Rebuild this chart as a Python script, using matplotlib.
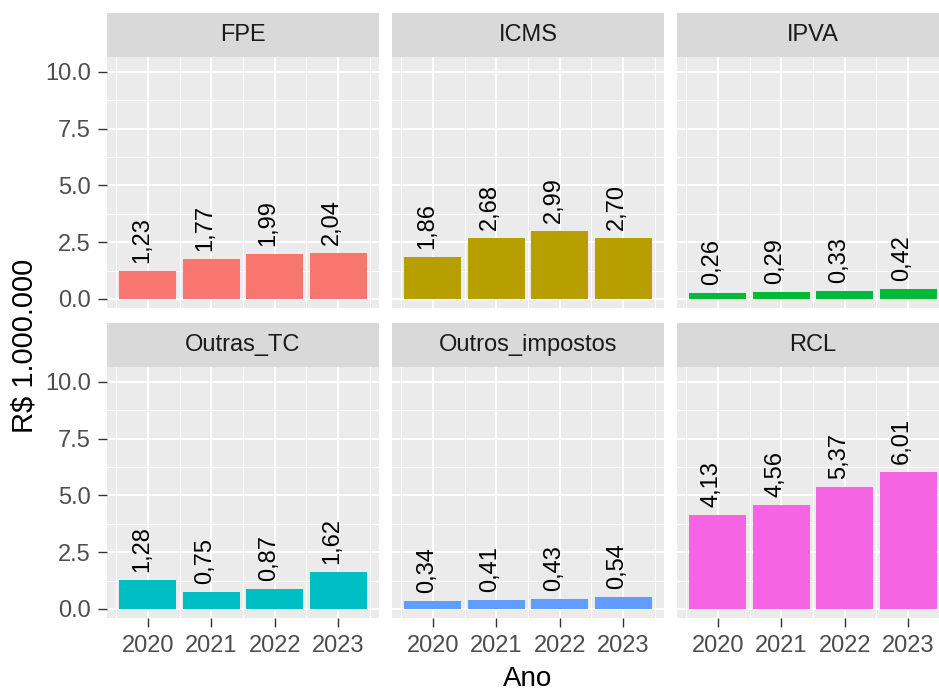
import matplotlib.pyplot as plt
from matplotlib.ticker import FixedLocator

plt.rcParams['font.family'] = ['Liberation Sans', 'DejaVu Sans']

# Data
anos = [2020, 2021, 2022, 2023]
fontes = ['FPE', 'ICMS', 'IPVA', 'Outras_TC', 'Outros_impostos', 'RCL']
fpe = [1.23, 1.77, 1.99, 2.04]
icms = [1.86, 2.68, 2.99, 2.70]
ipva = [0.26, 0.29, 0.33, 0.42]
outras_tc = [1.28, 0.75, 0.87, 1.62]
outros_impostos = [0.34, 0.41, 0.43, 0.54]
rcl = [4.13, 4.56, 5.37, 6.01]
valores = [fpe, icms, ipva, outras_tc, outros_impostos, rcl]
cores = ['#F8766D', '#B79F00', '#00BA38', '#00BFC4', '#619CFF', '#F564E3']

W, H = 939, 693
fig = plt.figure(figsize=(W / 100, H / 100), dpi=100)

col_x = [107, 392, 677]
panel_w = 272
rows = [(13, 57, 308), (323, 367, 618)]  # strip top, panel top, panel bottom

def px_axes(x0, y0, x1, y1):
    return fig.add_axes([x0 / W, 1 - y1 / H, (x1 - x0) / W, (y1 - y0) / H])

for i, (nome, vals, cor) in enumerate(zip(fontes, valores, cores)):
    r, c = divmod(i, 3)
    st, pt, pb = rows[r]
    x0 = col_x[c]
    x1 = x0 + panel_w

    # strip
    sax = px_axes(x0, st, x1, pt)
    sax.set_facecolor('#D9D9D9')
    sax.set_xticks([])
    sax.set_yticks([])
    for s in sax.spines.values():
        s.set_visible(False)
    sax.text(0.5, 0.5, nome, transform=sax.transAxes, ha='center', va='center',
             fontsize=17, color='#1A1A1A')

    # panel
    ax = px_axes(x0, pt, x1, pb)
    ax.set_facecolor('#EBEBEB')
    for s in ax.spines.values():
        s.set_visible(False)
    ax.set_xlim(2019.355, 2023.645)
    ax.set_ylim(-0.4, 10.65)
    ax.xaxis.set_major_locator(FixedLocator(anos))
    ax.xaxis.set_minor_locator(FixedLocator([2019.5, 2020.5, 2021.5, 2022.5, 2023.5]))
    ax.yaxis.set_major_locator(FixedLocator([0, 2.5, 5, 7.5, 10]))
    ax.yaxis.set_minor_locator(FixedLocator([1.25, 3.75, 6.25, 8.75]))
    ax.grid(which='major', color='white', linewidth=1.5)
    ax.grid(which='minor', color='white', linewidth=0.75)
    ax.set_axisbelow(True)
    ax.tick_params(which='minor', length=0)
    ax.tick_params(which='major', length=6.5, width=1, color='#333333',
                   labelsize=17, labelcolor='#4D4D4D')
    ax.tick_params(axis='x', pad=6)
    ax.tick_params(axis='y', pad=5)

    ax.bar(anos, vals, width=0.9, color=cor, zorder=2)
    for a, v in zip(anos, vals):
        ax.annotate(f"{v:.2f}".replace('.', ','), (a, v), xytext=(0, 8),
                    textcoords='offset pixels', rotation=90, rotation_mode='anchor',
                    ha='left', va='baseline', fontsize=17, color='black', zorder=3)

    if r == 0:
        ax.tick_params(axis='x', which='both', bottom=False, labelbottom=False)
    else:
        ax.set_xticklabels([str(a) for a in anos])
    if c == 0:
        ax.set_yticklabels(['0.0', '2.5', '5.0', '7.5', '10.0'])
    else:
        ax.tick_params(axis='y', which='both', left=False, labelleft=False)

fig.text(528 / W, 1 - 686 / H, 'Ano', ha='center', va='baseline', fontsize=20, color='black')
fig.text(25 / W, 1 - 346 / H, 'R$ 1.000.000', ha='center', va='center', rotation=90,
         fontsize=21, color='black')

fig.savefig('out.png', dpi=100, facecolor='white')
